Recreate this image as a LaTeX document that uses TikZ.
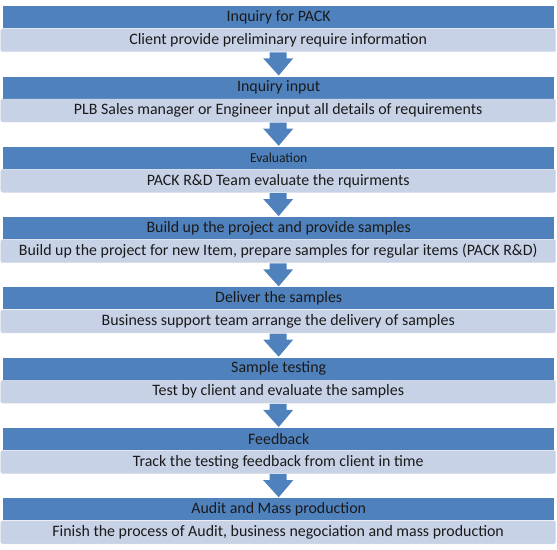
\documentclass[tikz,border=0pt]{standalone}
\usepackage{fontspec}
\setmainfont{Carlito}
\usetikzlibrary{calc}
\definecolor{barblue}{HTML}{4F81BD}
\definecolor{barlight}{HTML}{C8D2E6}
\definecolor{barline}{HTML}{D6DBE6}
\definecolor{txt}{HTML}{1A1A1A}
\begin{document}
\begin{tikzpicture}[x=1pt,y=-1pt,
  title/.style={fill=barblue, minimum width=551pt, minimum height=22pt, inner sep=0pt,
    text=txt, font=\fontsize{15.9}{18}\selectfont, anchor=north west},
  smalltitle/.style={title, font=\fontsize{13.6}{16}\selectfont},
  detail/.style={fill=barlight, draw=barline, rounded corners=2pt, minimum width=555pt,
    minimum height=23pt, inner sep=0pt, text=txt, font=\fontsize{15.9}{18}\selectfont, anchor=north west},
  flowarrow/.style={fill=barblue}]
\useasboundingbox (0,0) rectangle (557,549);
\node[title] (t1) at (3,6) {Inquiry for PACK};
\node[detail] (d1) at (0.5,28.5) {Client provide preliminary require information};
\node[title] (t2) at (3,76.3) {Inquiry input};
\node[detail] (d2) at (0.5,98.8) {PLB Sales manager or Engineer input all details of requirements};
\node[smalltitle] (t3) at (3,146.6) {Evaluation};
\node[detail] (d3) at (0.5,169.1) {PACK R\&D Team evaluate the rquirments};
\node[title] (t4) at (3,216.9) {Build up the project and provide samples};
\node[detail] (d4) at (0.5,239.4) {Build up the project for new Item, prepare samples for regular items (PACK R\&D)};
\node[title] (t5) at (3,287.2) {Deliver the samples};
\node[detail] (d5) at (0.5,309.7) {Business support team arrange the delivery of samples};
\node[title] (t6) at (3,357.5) {Sample testing};
\node[detail] (d6) at (0.5,380) {Test by client and evaluate the samples};
\node[title] (t7) at (3,427.8) {Feedback};
\node[detail] (d7) at (0.5,450.3) {Track the testing feedback from client in time};
\node[title] (t8) at (3,498.1) {Audit and Mass production};
\node[detail] (d8) at (0.5,520.6) {Finish the process of Audit, business negociation and mass production};
\foreach \a/\b in {1/2,2/3,3/4,4/5,5/6,6/7,7/8}{
  \fill[flowarrow] ($(d\a.south)+(-8.5,0.5)$) -- ($(d\a.south)+(8.5,0.5)$)
    -- ($(d\a.south)+(8.5,6.5)$) -- ($(d\a.south)+(15,6.5)$)
    -- ($(t\b.north)+(0,-0.8)$)
    -- ($(d\a.south)+(-15,6.5)$) -- ($(d\a.south)+(-8.5,6.5)$) -- cycle;
}
\end{tikzpicture}
\end{document}
